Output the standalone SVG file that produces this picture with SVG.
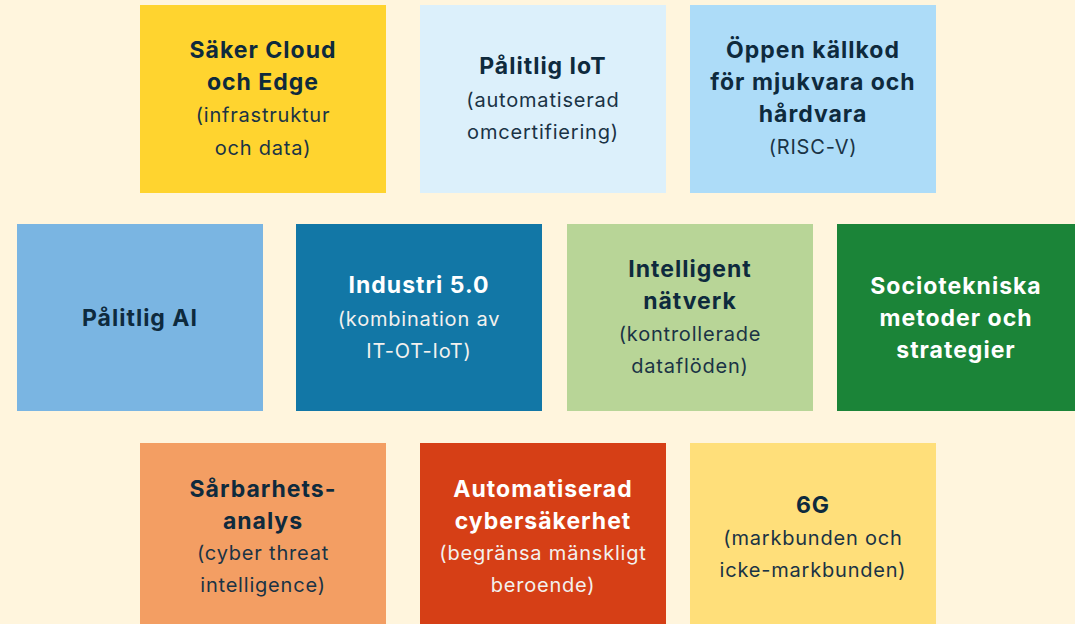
<svg xmlns="http://www.w3.org/2000/svg" width="1075" height="624" viewBox="0 0 1075 624">
<style>
.t{font-family:Inter,"Noto Sans","Liberation Sans",sans-serif;font-weight:700;font-size:23px;letter-spacing:1px;fill:#0e2a3d;text-anchor:middle}
.s{font-family:Inter,"Noto Sans","Liberation Sans",sans-serif;font-weight:400;font-size:20px;letter-spacing:0.8px;fill:#1a3345;text-anchor:middle}
.w{fill:#ffffff}
.ws{fill:#f3f1ee}
</style>
<rect width="1075" height="624" fill="#fff5dd"/>
<g id="saker-cloud"><rect x="140" y="5" width="246" height="188" fill="#ffd42f"/>
<text class="t" x="263" y="58">Säker Cloud</text><text class="t" x="263" y="90">och Edge</text>
<text class="s" x="263" y="122">(infrastruktur</text><text class="s" x="263" y="155">och data)</text></g>
<g id="palitlig-iot"><rect x="420" y="5" width="246" height="188" fill="#dcf0fb"/>
<text class="t" x="543" y="74">Pålitlig IoT</text>
<text class="s" x="543" y="107">(automatiserad</text><text class="s" x="543" y="139">omcertifiering)</text></g>
<g id="oppen-kallkod"><rect x="690" y="5" width="246" height="188" fill="#addcf8"/>
<text class="t" x="813" y="58">Öppen källkod</text><text class="t" x="813" y="90">för mjukvara och</text><text class="t" x="813" y="122">hårdvara</text>
<text class="s" x="813" y="154">(RISC-V)</text></g>
<g id="palitlig-ai"><rect x="17" y="224" width="246" height="187" fill="#7ab5e2"/>
<text class="t" x="140" y="326">Pålitlig AI</text></g>
<g id="industri"><rect x="296" y="224" width="246" height="187" fill="#1277a6"/>
<text class="t w" x="419" y="293">Industri 5.0</text>
<text class="s ws" x="419" y="326">(kombination av</text><text class="s ws" x="419" y="358">IT-OT-IoT)</text></g>
<g id="intelligent-natverk"><rect x="567" y="224" width="246" height="187" fill="#b8d597"/>
<text class="t" x="690" y="277">Intelligent</text><text class="t" x="690" y="309">nätverk</text>
<text class="s" x="690" y="341">(kontrollerade</text><text class="s" x="690" y="373">dataflöden)</text></g>
<g id="sociotekniska"><rect x="837" y="224" width="238" height="187" fill="#1b8438"/>
<text class="t w" x="956" y="294">Sociotekniska</text><text class="t w" x="956" y="326">metoder och</text><text class="t w" x="956" y="358">strategier</text></g>
<g id="sarbarhetsanalys"><rect x="140" y="443" width="246" height="181" fill="#f39e63"/>
<text class="t" x="263" y="497">Sårbarhets-</text><text class="t" x="263" y="529">analys</text>
<text class="s" x="263" y="560">(cyber threat</text><text class="s" x="263" y="592">intelligence)</text></g>
<g id="automatiserad-cyber"><rect x="420" y="443" width="246" height="181" fill="#d63f16"/>
<text class="t w" x="543" y="497">Automatiserad</text><text class="t w" x="543" y="529">cybersäkerhet</text>
<text class="s ws" x="543" y="560">(begränsa mänskligt</text><text class="s ws" x="543" y="592">beroende)</text></g>
<g id="sixg"><rect x="690" y="443" width="246" height="181" fill="#ffdf7a"/>
<text class="t" x="813" y="513">6G</text>
<text class="s" x="813" y="545">(markbunden och</text><text class="s" x="813" y="577">icke-markbunden)</text></g>
<g id="connectors"></g>
</svg>
